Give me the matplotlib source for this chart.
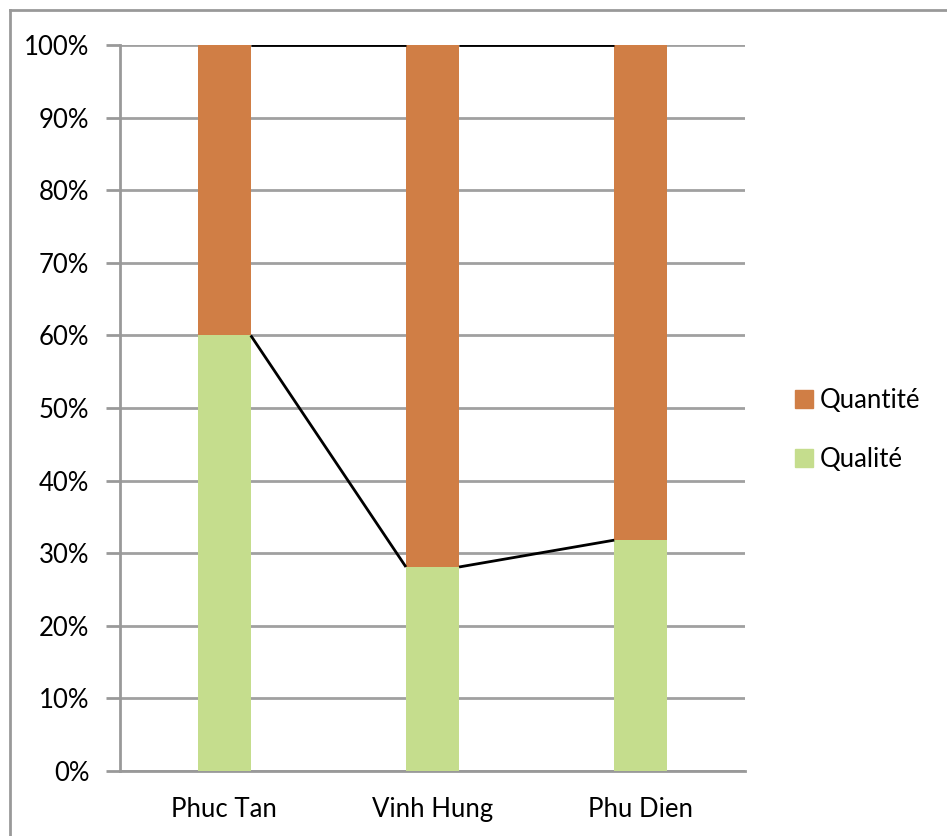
import matplotlib
matplotlib.use("Agg")
import matplotlib.pyplot as plt
from matplotlib.patches import Patch
from matplotlib.lines import Line2D
import numpy as np

categories = ["Phuc Tan", "Vinh Hung", "Phu Dien"]
qualite = [60.0, 28.1, 31.8]
quantite = [40.0, 71.9, 68.2]
series_names = ["Qualité", "Quantité"]
colors = ["#c5dd8d", "#d07e45"]

plt.rcParams['font.family'] = ['Lato', 'DejaVu Sans']

W, H = 947, 836
fig = plt.figure(figsize=(W/100, H/100), dpi=100)
ax = fig.add_axes([120/W, (H-771)/H, (745-120)/W, (771-45)/H])

x = np.arange(len(categories))
w = 0.255
ax.bar(x, qualite, w, color=colors[0], zorder=3, label=series_names[0])
ax.bar(x, quantite, w, bottom=qualite, color=colors[1], zorder=3, label=series_names[1])

tops = [np.array(qualite), np.array(qualite) + np.array(quantite)]
for t in tops:
    for i in range(len(categories) - 1):
        ax.plot([x[i] + w/2, x[i+1] - w/2], [t[i], t[i+1]], color="black", lw=2, zorder=4,
                solid_capstyle="butt")

ax.set_xlim(-0.5, len(categories) - 0.5)
ax.set_ylim(0, 100)
ax.set_yticks(np.arange(0, 101, 10))
ax.set_yticklabels([f"{v}%" for v in range(0, 101, 10)], fontsize=18.5)
ax.set_xticks(x)
ax.set_xticklabels(categories, fontsize=18.5)
ax.tick_params(axis='x', length=0, pad=19)
ax.tick_params(axis='y', length=10, width=2, color="#999999", pad=12, direction='out')
ax.yaxis.grid(True, color="#a0a0a0", lw=2, zorder=0)
for s in ["top", "right"]:
    ax.spines[s].set_visible(False)
for s in ["left", "bottom"]:
    ax.spines[s].set_color("#999999")
    ax.spines[s].set_linewidth(2)

handles = [Patch(color=colors[1]), Patch(color=colors[0])]
fig.legend(handles, ["Quantité", "Qualité"], loc="center left",
           bbox_to_anchor=(772/W, (H-430)/H), frameon=False, fontsize=18.5,
           handlelength=0.7, handleheight=0.7, handletextpad=0.25, labelspacing=1.3)

# outer chart border (left and top visible)
fig.add_artist(Line2D([9.5/W, 9.5/W], [0, 1 - 9.5/H], transform=fig.transFigure, color="#999999", lw=2))
fig.add_artist(Line2D([9.5/W, 1], [1 - 9.5/H, 1 - 9.5/H], transform=fig.transFigure, color="#999999", lw=2))

fig.savefig("out.png", dpi=100)
